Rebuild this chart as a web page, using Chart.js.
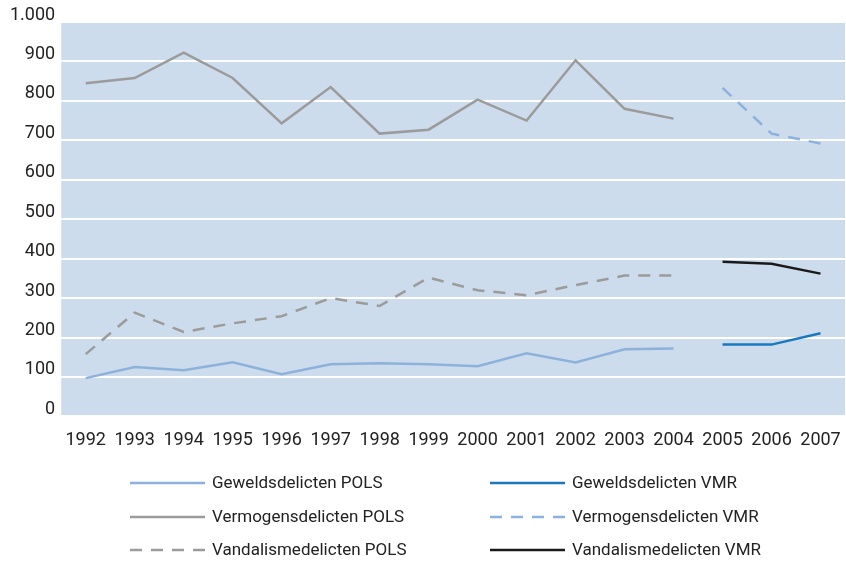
<!DOCTYPE html>
<html>
<head>
<meta charset="utf-8">
<script src="https://cdn.jsdelivr.net/npm/chart.js@4/dist/chart.umd.min.js"></script>
<style>
  html, body { margin: 0; padding: 0; background: #fff; }
  #wrap { width: 846px; height: 561px; }
</style>
</head>
<body>
<div id="wrap"><canvas id="chart"></canvas></div>
<script>
// jaren
const years = ['1992', '1993', '1994', '1995', '1996', '1997', '1998', '1999',
               '2000', '2001', '2002', '2003', '2004', '2005', '2006', '2007'];

// POLS loopt t/m 2004, VMR vanaf 2005
const geweldPols = [97, 125, 117, 137, 107, 132, 135, 132, 127, 160, 137, 170, 172, null, null, null];
const geweldVmr = [null, null, null, null, null, null, null, null, null, null, null, null, null, 182, 182, 211];
const vermogenPols = [845, 858, 922, 858, 743, 835, 717, 727, 803, 750, 903, 780, 755, null, null, null];
const vermogenVmr = [null, null, null, null, null, null, null, null, null, null, null, null, null, 833, 717, 692];
const vandalismePols = [158, 263, 214, 236, 254, 300, 280, 352, 320, 307, 333, 357, 357, null, null, null];
const vandalismeVmr = [null, null, null, null, null, null, null, null, null, null, null, null, null, 392, 387, 362];

const yTicks = [0, 100, 200, 300, 400, 500, 600, 700, 800, 900, 1000];

const GREY = '#9b9b9b';
const LIGHTBLUE = '#8cb2dc';
const BLUE = '#1a78be';
const BLACK = '#1a1a1a';

// blauwe achtergrond achter het plotgebied
const plotBackground = {
    id: 'plotBackground',
    beforeDraw(chart) {
        const { ctx, chartArea } = chart;
        ctx.save();
        ctx.fillStyle = '#cddcec';
        ctx.fillRect(chartArea.left, chartArea.top, chartArea.right - chartArea.left, chartArea.bottom - chartArea.top);
        ctx.restore();
    }
};

// legenda in twee kolommen, onder de grafiek
const twoColumnLegend = {
    id: 'twoColumnLegend',
    afterDraw(chart) {
        const ctx = chart.ctx;
        const cols = [130, 490];
        const rows = [483, 517, 550];
        ctx.save();
        ctx.font = '17px Roboto, sans-serif';
        ctx.textBaseline = 'middle';
        chart.data.datasets.forEach(function (ds, i) {
            const x = cols[i % 2];
            const y = rows[Math.floor(i / 2)];
            ctx.strokeStyle = ds.borderColor;
            ctx.lineWidth = 2.5;
            ctx.setLineDash(ds.borderDash || []);
            ctx.beginPath();
            ctx.moveTo(x, y);
            ctx.lineTo(x + 75, y);
            ctx.stroke();
            ctx.setLineDash([]);
            ctx.fillStyle = '#222';
            ctx.fillText(ds.label, x + 82, y + 1);
        });
        ctx.restore();
    }
};

function line(label, data, color, dash) {
    return {
        label: label,
        data: data,
        borderColor: color,
        backgroundColor: color,
        borderWidth: 2.5,
        borderDash: dash,
        pointRadius: 0,
        tension: 0,
        spanGaps: false
    };
}

const ctx = document.getElementById('chart').getContext('2d');
const chart = new Chart(ctx, {
    type: 'line',
    data: {
        labels: years,
        datasets: [
            line('Geweldsdelicten POLS', geweldPols, LIGHTBLUE, []),
            line('Geweldsdelicten VMR', geweldVmr, BLUE, []),
            line('Vermogensdelicten POLS', vermogenPols, GREY, []),
            line('Vermogensdelicten VMR', vermogenVmr, LIGHTBLUE, [12, 9]),
            line('Vandalismedelicten POLS', vandalismePols, GREY, [12, 9]),
            line('Vandalismedelicten VMR', vandalismeVmr, BLACK, [])
        ]
    },
    options: {
        responsive: true,
        maintainAspectRatio: false,
        animation: false,
        layout: {
            padding: { left: 4, right: 1, top: 22, bottom: 105 }
        },
        plugins: {
            legend: { display: false },
            tooltip: { enabled: false }
        },
        scales: {
            x: {
                offset: true,
                grid: { display: false },
                border: { display: false },
                ticks: {
                    color: '#222',
                    padding: 5,
                    maxRotation: 0,
                    font: { family: 'Roboto, sans-serif', size: 18 }
                }
            },
            y: {
                min: 0,
                max: 1000,
                afterBuildTicks: function (axis) {
                    axis.ticks = yTicks.map(function (v) { return { value: v }; });
                },
                grid: {
                    color: '#ffffff',
                    lineWidth: 2,
                    drawTicks: false
                },
                border: { display: false },
                ticks: {
                    color: '#222',
                    padding: 6,
                    labelOffset: -7,
                    font: { family: 'Roboto, sans-serif', size: 18 },
                    callback: function (value) {
                        return value.toLocaleString('nl-NL');
                    }
                }
            }
        }
    },
    plugins: [plotBackground, twoColumnLegend]
});
</script>
</body>
</html>
